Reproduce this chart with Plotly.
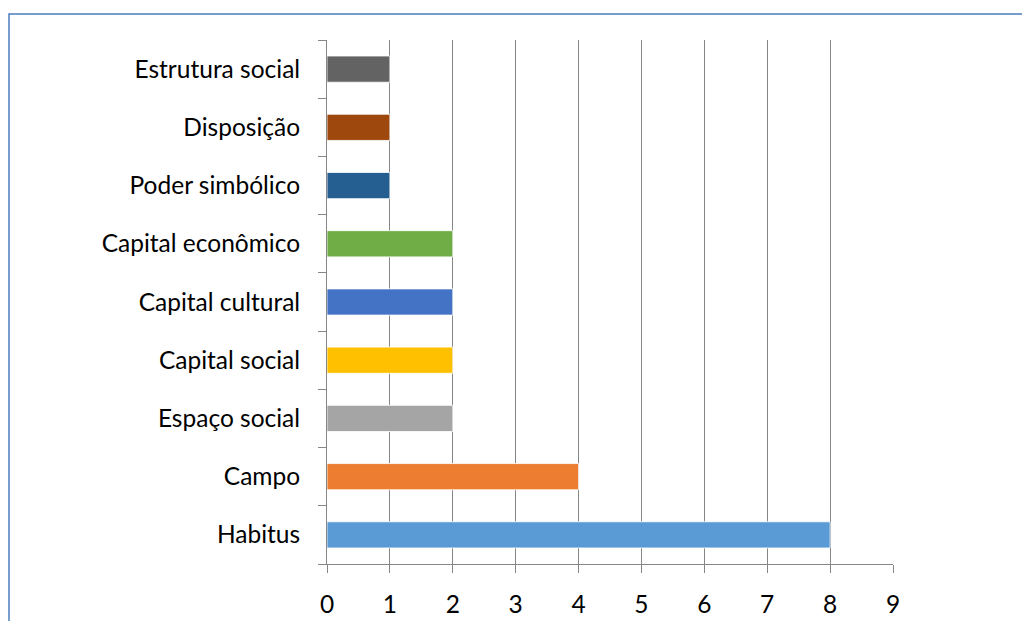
import plotly.graph_objects as go

# categorias (de baixo para cima) e contagens
categorias = ['Habitus', 'Campo', 'Espaço social', 'Capital social', 'Capital cultural',
              'Capital econômico', 'Poder simbólico', 'Disposição', 'Estrutura social']
valores = [8, 4, 2, 2, 2, 2, 1, 1, 1]
cores = ['#5B9BD5', '#ED7D31', '#A5A5A5', '#FFC000', '#4472C4',
         '#70AD47', '#255E91', '#9E480E', '#636363']
x_ticks = list(range(0, 10))

fig = go.Figure()

fig.add_trace(go.Bar(
    x=valores,
    y=categorias,
    orientation='h',
    marker=dict(color=cores, line=dict(color='rgba(255,255,255,0.8)', width=1)),
    showlegend=False,
    hoverinfo='x+y'
))

fnt = dict(family='Lato, Carlito, Calibri, sans-serif', size=24.5, color='#000000')

# a página tem 8px de margem no body, por isso tudo desloca 8px
fig.update_layout(
    width=1030, height=621,
    paper_bgcolor='white',
    plot_bgcolor='white',
    margin=dict(l=319, r=145, t=32, b=65),
    bargap=0.55,
    font=fnt,
    xaxis=dict(
        range=[0, 9],
        tickvals=x_ticks,
        ticks='outside', ticklen=8, tickcolor='#868686', tickwidth=1,
        showline=True, linecolor='#868686', linewidth=1,
        showgrid=True, gridcolor='#868686', gridwidth=1,
        zeroline=False,
        tickfont=fnt,
        ticklabelstandoff=11,
    ),
    yaxis=dict(
        type='category',
        categoryorder='array', categoryarray=categorias,
        range=[-0.5, 8.5],
        ticks='outside', ticklen=8, tickcolor='#868686', tickwidth=1,
        tickson='boundaries',
        showline=True, linecolor='#868686', linewidth=1,
        showgrid=False,
        tickfont=fnt,
        ticklabelstandoff=21,
    ),
    shapes=[dict(
        type='rect', xref='paper', yref='paper',
        x0=(1 - 319) / 566, x1=1.5,
        y0=-0.3, y1=(556 - 6) / 524,
        line=dict(color='#4A7EBB', width=1.5),
        fillcolor='rgba(0,0,0,0)',
        layer='below'
    )]
)

fig.write_html('out.html')
